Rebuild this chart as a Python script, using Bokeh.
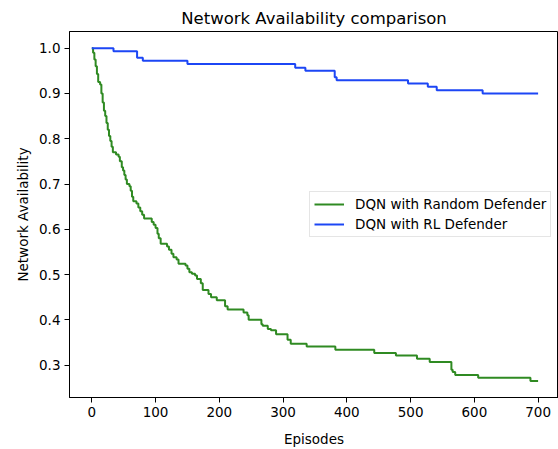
from bokeh.plotting import figure
from bokeh.models import Range1d, Legend, LegendItem, FixedTicker, NumeralTickFormatter
from bokeh.embed import file_html
from bokeh.resources import INLINE

# Data: step change points (episode, value)
green_episodes = [0, 2, 4, 6, 8, 10, 13, 15, 17, 19, 21, 23, 25, 27, 29, 31, 33, 38, 42, 44,
                  47, 49, 51, 53, 55, 59, 61, 63, 65, 70, 73, 76, 79, 82, 94, 97, 100, 103, 105, 108,
                  118, 121, 125, 128, 133, 136, 147, 150, 153, 157, 162, 165, 171, 174, 183, 187, 196, 209, 213, 238,
                  244, 246, 266, 268, 276, 281, 289, 307, 312, 337, 382, 443, 477, 510, 530, 564,
                  566, 570, 606, 688, 700]
green_values = [1.0, 0.99, 0.975, 0.96, 0.943, 0.925, 0.92, 0.90, 0.88, 0.862, 0.85, 0.835, 0.82, 0.806, 0.795, 0.782, 0.77, 0.765, 0.76, 0.75,
                0.737, 0.73, 0.72, 0.71, 0.70, 0.695, 0.685, 0.672, 0.662, 0.657, 0.648, 0.64, 0.632, 0.624, 0.616, 0.61, 0.603, 0.59, 0.58, 0.568,
                0.562, 0.555, 0.546, 0.538, 0.533, 0.524, 0.52, 0.513, 0.505, 0.502, 0.498, 0.49, 0.481, 0.466, 0.457, 0.45, 0.443, 0.43, 0.423, 0.416,
                0.41, 0.40, 0.39, 0.387, 0.38, 0.377, 0.368, 0.356, 0.347, 0.341, 0.334, 0.327, 0.321, 0.314, 0.307, 0.29,
                0.285, 0.278, 0.272, 0.265, 0.265]

blue_episodes = [0, 34, 71, 80, 150, 319, 335, 381, 384, 496, 527, 541, 613, 700]
blue_values = [1.0, 0.993, 0.979, 0.972, 0.965, 0.957, 0.95, 0.936, 0.929, 0.922, 0.915, 0.907, 0.9, 0.9]

x_ticks = [0, 100, 200, 300, 400, 500, 600, 700]
y_ticks = [0.3, 0.4, 0.5, 0.6, 0.7, 0.8, 0.9, 1.0]

FONT = "DejaVu Sans"

p = figure(width=558, height=449, output_backend="svg", toolbar_location=None,
           x_range=Range1d(-35, 732), y_range=Range1d(0.2285, 1.0368),
           title="Network Availability comparison",
           min_border_left=69, min_border_right=0, min_border_top=31, min_border_bottom=52)
p.background_fill_color = "white"
p.border_fill_color = "white"
p.outline_line_color = "black"
p.outline_line_width = 1
p.xgrid.grid_line_color = None
p.ygrid.grid_line_color = None

p.title.text_font = FONT
p.title.text_font_size = "16.5px"
p.title.text_font_style = "normal"
p.title.align = "center"
p.title.text_color = "black"
p.title.standoff = 8

for ax in (p.xaxis[0], p.yaxis[0]):
    ax.major_label_text_font = FONT
    ax.major_label_text_font_size = "13.5px"
    ax.major_label_text_color = "black"
    ax.axis_label_text_font = FONT
    ax.axis_label_text_font_size = "13.5px"
    ax.axis_label_text_font_style = "normal"
    ax.axis_label_text_color = "black"
    ax.axis_line_color = "black"
    ax.major_tick_line_color = "black"
    ax.major_tick_out = 5
    ax.major_tick_in = 0
    ax.minor_tick_line_color = None
    ax.major_label_standoff = 4

p.xaxis.ticker = FixedTicker(ticks=x_ticks)
p.yaxis.ticker = FixedTicker(ticks=y_ticks)
p.yaxis.formatter = NumeralTickFormatter(format="0.0")
p.xaxis.axis_label = "Episodes"
p.yaxis.axis_label = "Network Availability"
p.xaxis.axis_label_standoff = 11
p.yaxis.axis_label_standoff = 5

g = p.step(green_episodes, green_values, mode="after", line_color="#2f8a22", line_width=2)
b = p.step(blue_episodes, blue_values, mode="after", line_color="#1c46f5", line_width=2)

legend = Legend(items=[LegendItem(label="DQN with Random Defender", renderers=[g]),
                       LegendItem(label="DQN with RL Defender", renderers=[b])],
                location=(240, 160))
legend.label_text_font = FONT
legend.label_text_font_size = "13.5px"
legend.label_text_color = "black"
legend.border_line_color = "#cccccc"
legend.border_line_width = 1
legend.background_fill_alpha = 0.8
legend.padding = 4
legend.margin = 0
legend.spacing = 4
legend.glyph_width = 30
legend.glyph_height = 16
legend.label_height = 16
legend.label_standoff = 11
p.add_layout(legend)

open("out.html", "w").write(file_html(p, INLINE))
